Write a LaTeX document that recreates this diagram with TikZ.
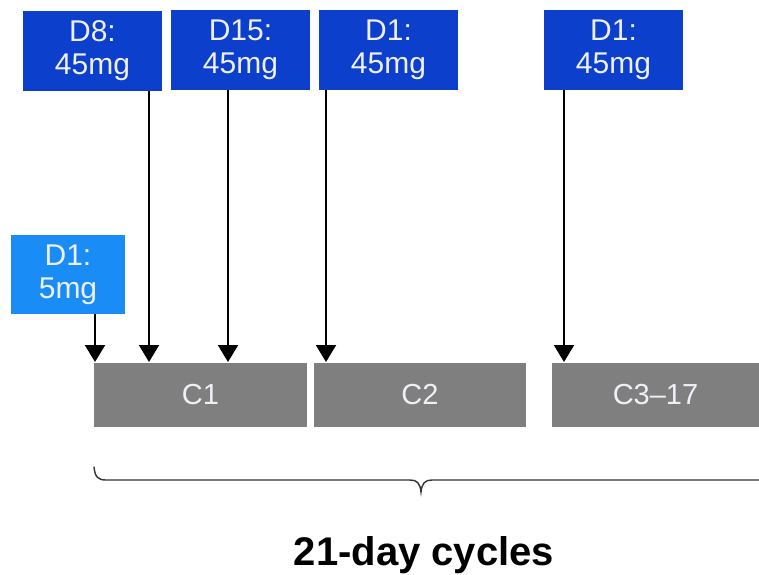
\documentclass[tikz,border=0pt]{standalone}
\usepackage{fontspec}
\setmainfont{Liberation Sans}
\usetikzlibrary{arrows.meta}
\definecolor{dosedark}{RGB}{11,63,204}
\definecolor{doselight}{RGB}{26,140,245}
\definecolor{cyclegray}{RGB}{127,127,127}
\definecolor{boxtext}{RGB}{238,240,245}
\definecolor{bracegray}{RGB}{50,50,50}
\tikzset{
  dosebox/.style={fill=dosedark, draw=none, text=boxtext, align=center,
    minimum width=139pt, minimum height=80pt, inner sep=0pt,
    font=\fontsize{30}{33}\selectfont},
  firstdose/.style={dosebox, fill=doselight, minimum width=114pt, minimum height=79pt},
  cyclebox/.style={fill=cyclegray, draw=none, text=boxtext, inner sep=0pt,
    minimum height=64pt, font=\fontsize{29}{34}\selectfont},
  arr/.style={line width=2pt, black, -{Triangle[width=20pt,length=17pt]}},
  bracestyle/.style={line width=1.4pt, bracegray, line cap=round},
}
\begin{document}
\begin{tikzpicture}[x=1pt,y=-1pt]
\useasboundingbox (0,0) rectangle (759,574);
\fill[white] (0,0) rectangle (759,574);
% dose boxes
\node[dosebox] (d8)  at (92.5,50.5)  {D8:\\45mg};
\node[dosebox] (d15) at (240.5,50)   {D15:\\45mg};
\node[dosebox] (d1b) at (388.5,50)   {D1:\\45mg};
\node[dosebox] (d1c) at (613.5,50)   {D1:\\45mg};
\node[firstdose] (d1a) at (68,274.5) {D1:\\5mg};
% cycle boxes
\node[cyclebox, minimum width=213pt] (c1) at (200.5,395) {C1};
\node[cyclebox, minimum width=212pt] (c2) at (420,395) {C2};
\node[cyclebox, minimum width=207pt] (c3) at (655.5,395) {C3--17};
% arrow targets
\coordinate (ta) at (95,362);
\coordinate (t8) at (149,362);
\coordinate (t15) at (228,362);
\coordinate (tb) at (326,362);
\coordinate (tc) at (564,362);
\draw[arr] (d1a.south -| ta) -- (ta);
\draw[arr] (d8.south -| t8) -- (t8);
\draw[arr] (d15.south -| t15) -- (t15);
\draw[arr] (d1b.south -| tb) -- (tb);
\draw[arr] (d1c.south -| tc) -- (tc);
% brace
\coordinate (bl) at (94,467);
\coordinate (bm) at (421,492);
\coordinate (br) at (759,480);
\draw[bracestyle] (bl) .. controls (95,477) and (98,480) .. (106,480)
  -- (410,480) .. controls (417,480) and (420,483) .. (bm)
  .. controls (422,483) and (425,480) .. (432,480)
  -- (br);
\node[font=\fontsize{40}{46}\selectfont\bfseries, text=black, inner sep=0pt, anchor=base] (lbl) at (424,565) {21-day cycles};
\end{tikzpicture}
\end{document}
